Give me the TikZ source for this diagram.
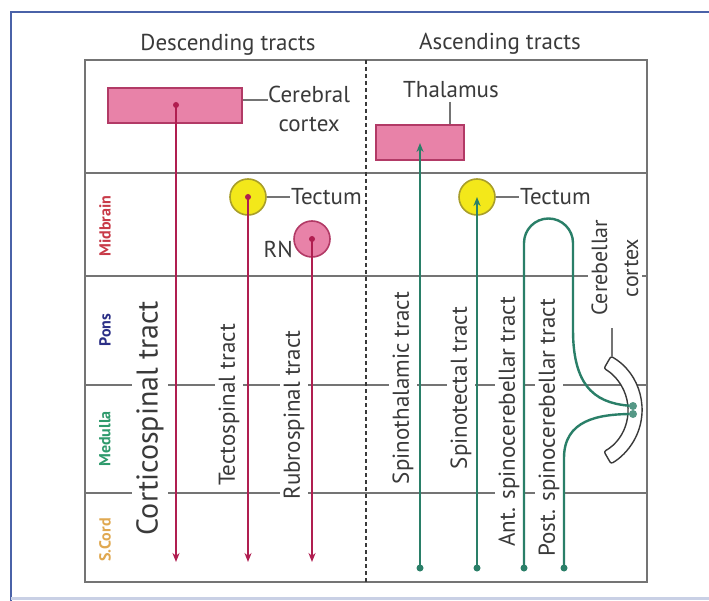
\documentclass[tikz,border=0pt]{standalone}
\usepackage{fontspec}
\setmainfont{PT Sans}
\usetikzlibrary{arrows.meta,calc}
\definecolor{gridc}{HTML}{747474}
\definecolor{crim}{HTML}{B01E50}
\definecolor{pinkf}{HTML}{E882A8}
\definecolor{pinkd}{HTML}{B23A66}
\definecolor{teal}{HTML}{2A7F68}
\definecolor{yel}{HTML}{F3E81A}
\definecolor{yeld}{HTML}{A89E2A}
\definecolor{txt}{HTML}{3A3A3A}
\definecolor{frameb}{HTML}{4A62A8}
\definecolor{midc}{HTML}{C83A48}
\definecolor{ponc}{HTML}{2B2F86}
\definecolor{medc}{HTML}{2E9A6C}
\definecolor{corc}{HTML}{E0A850}
\tikzset{
  grid/.style={draw=gridc, line width=2pt},
  desc/.style={draw=crim, line width=2.4pt, -{Stealth[length=9pt,width=7pt]}},
  asc/.style={draw=teal, line width=2.4pt},
  ascarr/.style={asc, -{Stealth[length=9pt,width=7pt]}},
  pinkbox/.style={draw=pinkd, fill=pinkf, line width=1.6pt, minimum width=134pt, minimum height=35pt, inner sep=0pt},
  yelc/.style={circle, draw=yeld, fill=yel, line width=1.6pt, minimum size=36pt, inner sep=0pt},
  pinkc/.style={circle, draw=pinkd, fill=pinkf, line width=1.6pt, minimum size=36pt, inner sep=0pt},
  lbl/.style={text=txt, font=\fontsize{23}{27}\selectfont, inner sep=1pt},
  tract/.style={text=txt, font=\fontsize{23}{26}\selectfont, rotate=90, fill=white, inner xsep=2pt, inner ysep=4pt},
  region/.style={font=\fontsize{16}{18}\selectfont\bfseries, rotate=90, inner sep=1pt},
  tick/.style={draw=gridc, line width=1.4pt}
}
\begin{document}
\begin{tikzpicture}[x=1pt,y=-1pt]
\useasboundingbox (0,0) rectangle (709,601);
% outer frame
\fill[white] (11,12) rectangle (709,597);
\draw[frameb, line width=2pt] (11,601) -- (11,12) -- (709,12);
\draw[frameb!30, line width=3pt] (11,598) -- (709,598);

% titles
\node[lbl] (tdesc) at (228,45) {Descending tracts};
\node[lbl] (tasc) at (500,44) {Ascending tracts};

% grid
\draw[grid] (85,60) rectangle (647,582);
\foreach \yy in {173,276,385,493} \draw[grid] (85,\yy) -- (647,\yy);
\draw[draw=txt, line width=1.2pt, dash pattern=on 4pt off 3pt] (366,60) -- (366,582);

% region labels
\node[region, text=midc] (rmid) at (105,226) {Midbrain};
\node[region, text=ponc] (rpon) at (105,330) {Pons};
\node[region, text=medc] (rmed) at (105,439) {Medulla};
\node[region, text=corc] (rcor) at (105,540) {S.Cord};

% tract labels
\node[tract, font=\fontsize{30}{34}\selectfont] (lcs) at (150,418) {Corticospinal tract};
\node[tract] (lts) at (229,405) {Tectospinal tract};
\node[tract] (lrs) at (294,415) {Rubrospinal tract};
\node[tract] (lsth) at (403,388) {Spinothalamic tract};
\node[tract] (lste) at (461,388) {Spinotectal tract};
\node[tract] (lant) at (509,422) {Ant. spinocerebellar tract};
\node[tract] (lpost) at (549,428) {Post. spinocerebellar tract};
\node[tract, align=center, font=\fontsize{22}{31}\selectfont] (lcc) at (615,268) {Cerebellar\\cortex};

% structures
\node[pinkbox] (cer) at (175,105.5) {};
\node[pinkbox, minimum width=88pt] (thal) at (420,142.5) {};
\node[yelc] (tec1) at (248,197) {};
\node[yelc] (tec2) at (477,197) {};
\node[pinkc] (rn) at (312,239) {};

% structure labels
\node[lbl, align=center, anchor=north west, inner sep=0pt] (lcer) at (268,86) {Cerebral\\[2pt]cortex};
\draw[tick] (cer.east |- 0,100) -- (268,100);
\node[lbl] (lthal) at (451,90) {Thalamus};
\draw[tick] (450,102) -- (thal.north -| 450,0);
\node[lbl, anchor=west] (ltec1) at (290,197) {Tectum};
\draw[tick] (tec1.east) -- (ltec1.west);
\node[lbl, anchor=west] (ltec2) at (519,197) {Tectum};
\draw[tick] (tec2.east) -- (ltec2.west);
\node[lbl, anchor=east] (lrn) at (294,249) {RN};

% cerebellar cortex band
\coordinate (cc) at (580,410);
\draw[draw=txt, line width=1.4pt, fill=white, rounded corners=2pt]
  ($(cc)+(-60:62)$) arc[start angle=-60, end angle=60, radius=62]
  -- ($(cc)+(60:48)$) arc[start angle=60, end angle=-60, radius=48] -- cycle;
\draw[tick] (612,357) -- (612,328);

% descending tracts
\coordinate (cs0) at (176,105);
\coordinate (cs1) at (176,562);
\coordinate (ts1) at (248,562);
\coordinate (rs1) at (312,562);
\draw[desc] (cs0) -- (cs1);
\draw[desc] (tec1.center) -- (ts1);
\draw[desc] (rn.center) -- (rs1);
\fill[crim] (cs0) circle (3pt) (tec1.center) circle (3pt) (rn.center) circle (3pt);

% ascending tracts
\coordinate (sth0) at (420,568);
\coordinate (sth1) at (420,143);
\coordinate (ste0) at (477,568);
\coordinate (an0) at (524,568);
\coordinate (po0) at (564,568);
\coordinate (an1) at (633,406);
\coordinate (po1) at (633,414);
\draw[ascarr] (sth0) -- (sth1);
\draw[ascarr] (ste0) -- (tec2.center);
\draw[asc] (an0) -- (524,243) arc[start angle=180, end angle=360, radius=24.5]
   -- (573,330) .. controls (573,392) and (600,404) .. (an1);
\draw[asc] (po0) -- (564,458) .. controls (564,420) and (598,414) .. (po1);
\fill[teal] (sth0) circle (3.5pt) (ste0) circle (3.5pt) (an0) circle (3.5pt) (po0) circle (3.5pt);
\fill[teal!80] (an1) circle (4pt) (po1) circle (4pt);
\end{tikzpicture}
\end{document}
